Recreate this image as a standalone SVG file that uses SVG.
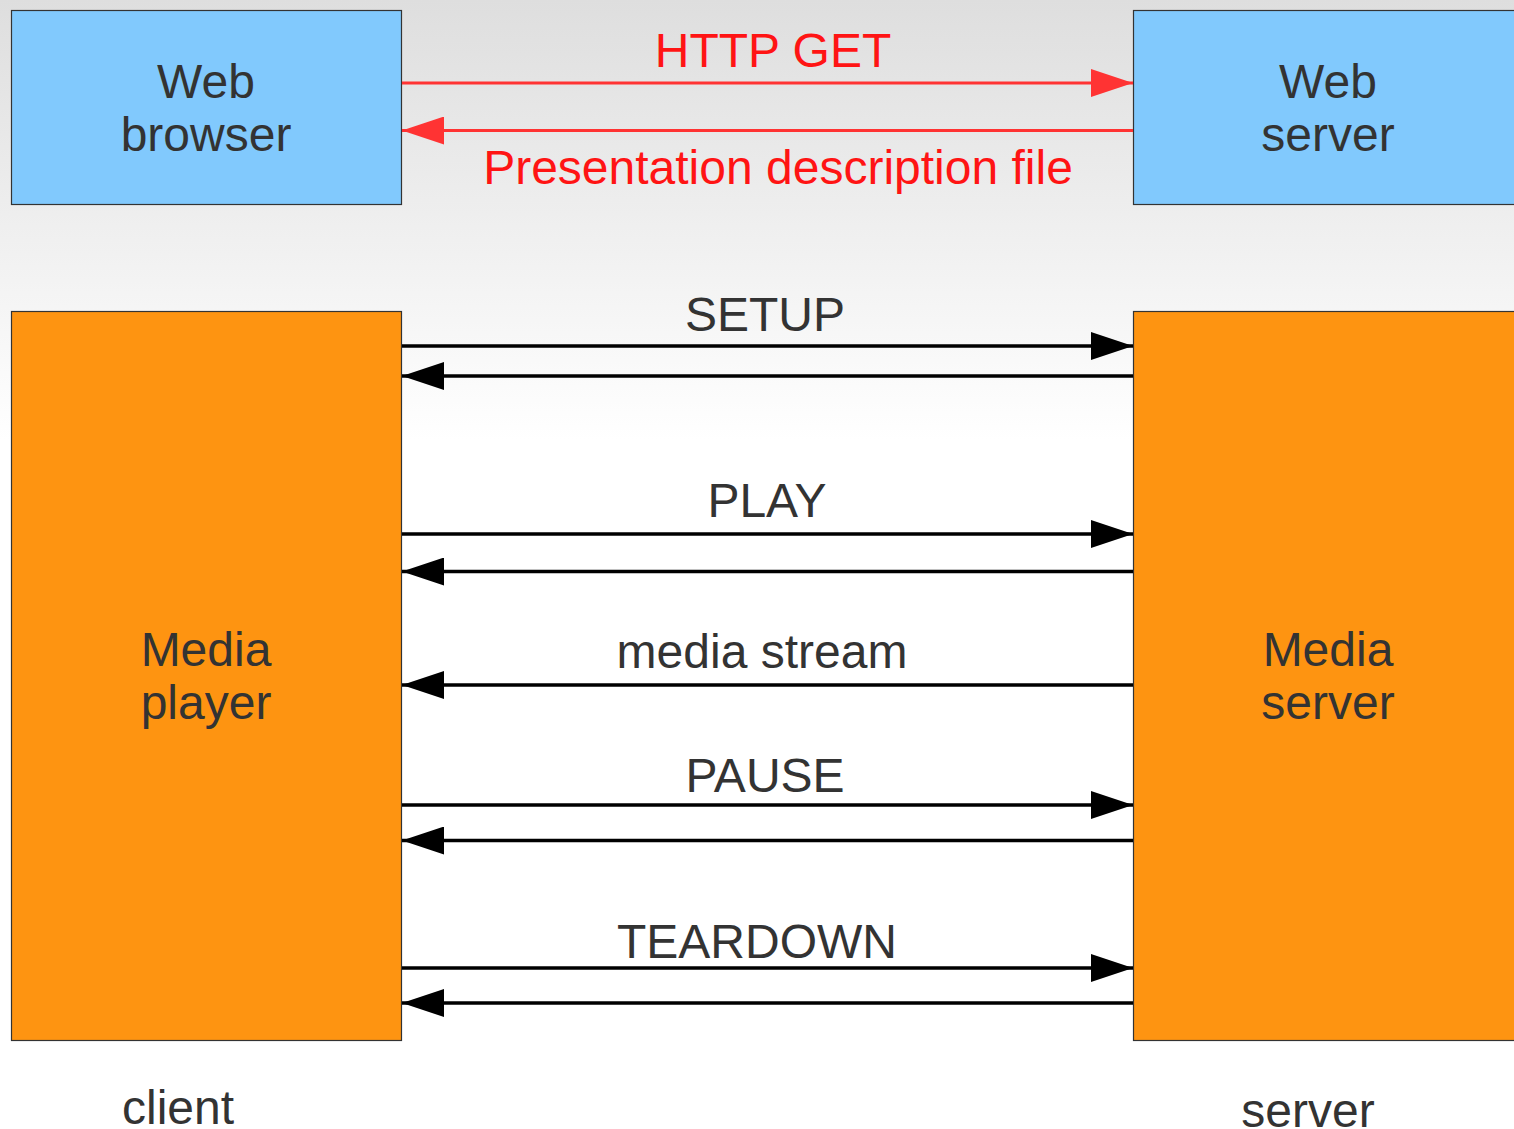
<svg xmlns="http://www.w3.org/2000/svg" width="1514" height="1129" viewBox="0 0 1514 1129">
  <style>
    .lbl { font-family: "Liberation Sans", Arial, sans-serif; font-size: 48px; fill: #333333; text-anchor: middle; }
    .red { fill: #ff1414; }
    .web { fill: #81c9fd; stroke: #333333; stroke-width: 1.2; }
    .media { fill: #fe9411; stroke: #333333; stroke-width: 1.2; }
    .msg { stroke: #000000; stroke-width: 3.5; fill: none; }
    .http { stroke: #ff3333; stroke-width: 3; fill: none; }
  </style>
  <defs>
    <linearGradient id="bg" x1="0" y1="0" x2="0" y2="1">
      <stop offset="0" stop-color="#dedede"/>
      <stop offset="1" stop-color="#ffffff"/>
    </linearGradient>
    <marker id="ahBlack" viewBox="0 0 42 28" refX="42" refY="14" markerWidth="42" markerHeight="28" markerUnits="userSpaceOnUse" orient="auto">
      <path d="M0,0 L42,14 L0,28 Z" fill="#000000"/>
    </marker>
    <marker id="ahRed" viewBox="0 0 42 28" refX="42" refY="14" markerWidth="42" markerHeight="28" markerUnits="userSpaceOnUse" orient="auto">
      <path d="M0,0 L42,14 L0,28 Z" fill="#ff3333"/>
    </marker>
  </defs>

  <!-- backdrop -->
  <rect x="0" y="0" width="1514" height="1129" fill="#ffffff"/>
  <rect x="0" y="0" width="1514" height="440" fill="url(#bg)"/>

  <!-- nodes -->
  <g id="web-browser">
    <rect class="web" x="11.5" y="10.5" width="390" height="194"/>
    <text class="lbl" x="206" y="98">Web</text>
    <text class="lbl" x="206" y="151">browser</text>
  </g>
  <g id="web-server">
    <rect class="web" x="1133.5" y="10.5" width="400" height="194"/>
    <text class="lbl" x="1328" y="98">Web</text>
    <text class="lbl" x="1328" y="151">server</text>
  </g>
  <g id="media-player">
    <rect class="media" x="11.5" y="311.5" width="390" height="729"/>
    <text class="lbl" x="206" y="666">Media</text>
    <text class="lbl" x="206" y="719">player</text>
  </g>
  <g id="media-server">
    <rect class="media" x="1133.5" y="311.5" width="400" height="729"/>
    <text class="lbl" x="1328" y="666">Media</text>
    <text class="lbl" x="1328" y="719">server</text>
  </g>

  <!-- connectors -->
  <g id="connectors">
    <line class="http" x1="402" y1="83" x2="1133" y2="83" marker-end="url(#ahRed)"/>
    <line class="http" x1="1133" y1="130.5" x2="402" y2="130.5" marker-end="url(#ahRed)"/>

    <line class="msg" x1="402" y1="346" x2="1133" y2="346" marker-end="url(#ahBlack)"/>
    <line class="msg" x1="1133" y1="376" x2="402" y2="376" marker-end="url(#ahBlack)"/>

    <line class="msg" x1="402" y1="534" x2="1133" y2="534" marker-end="url(#ahBlack)"/>
    <line class="msg" x1="1133" y1="571.5" x2="402" y2="571.5" marker-end="url(#ahBlack)"/>

    <line class="msg" x1="1133" y1="685" x2="402" y2="685" marker-end="url(#ahBlack)"/>

    <line class="msg" x1="402" y1="805" x2="1133" y2="805" marker-end="url(#ahBlack)"/>
    <line class="msg" x1="1133" y1="840.5" x2="402" y2="840.5" marker-end="url(#ahBlack)"/>

    <line class="msg" x1="402" y1="968" x2="1133" y2="968" marker-end="url(#ahBlack)"/>
    <line class="msg" x1="1133" y1="1003" x2="402" y2="1003" marker-end="url(#ahBlack)"/>
  </g>

  <!-- message labels -->
  <g id="labels">
    <text class="lbl red" x="773" y="67">HTTP GET</text>
    <text class="lbl red" x="778" y="184">Presentation description file</text>
    <text class="lbl" x="765" y="331">SETUP</text>
    <text class="lbl" x="767" y="517">PLAY</text>
    <text class="lbl" x="762" y="668">media stream</text>
    <text class="lbl" x="765" y="792">PAUSE</text>
    <text class="lbl" x="757" y="958">TEARDOWN</text>
    <text class="lbl" x="178" y="1124">client</text>
    <text class="lbl" x="1308" y="1127">server</text>
  </g>
</svg>
